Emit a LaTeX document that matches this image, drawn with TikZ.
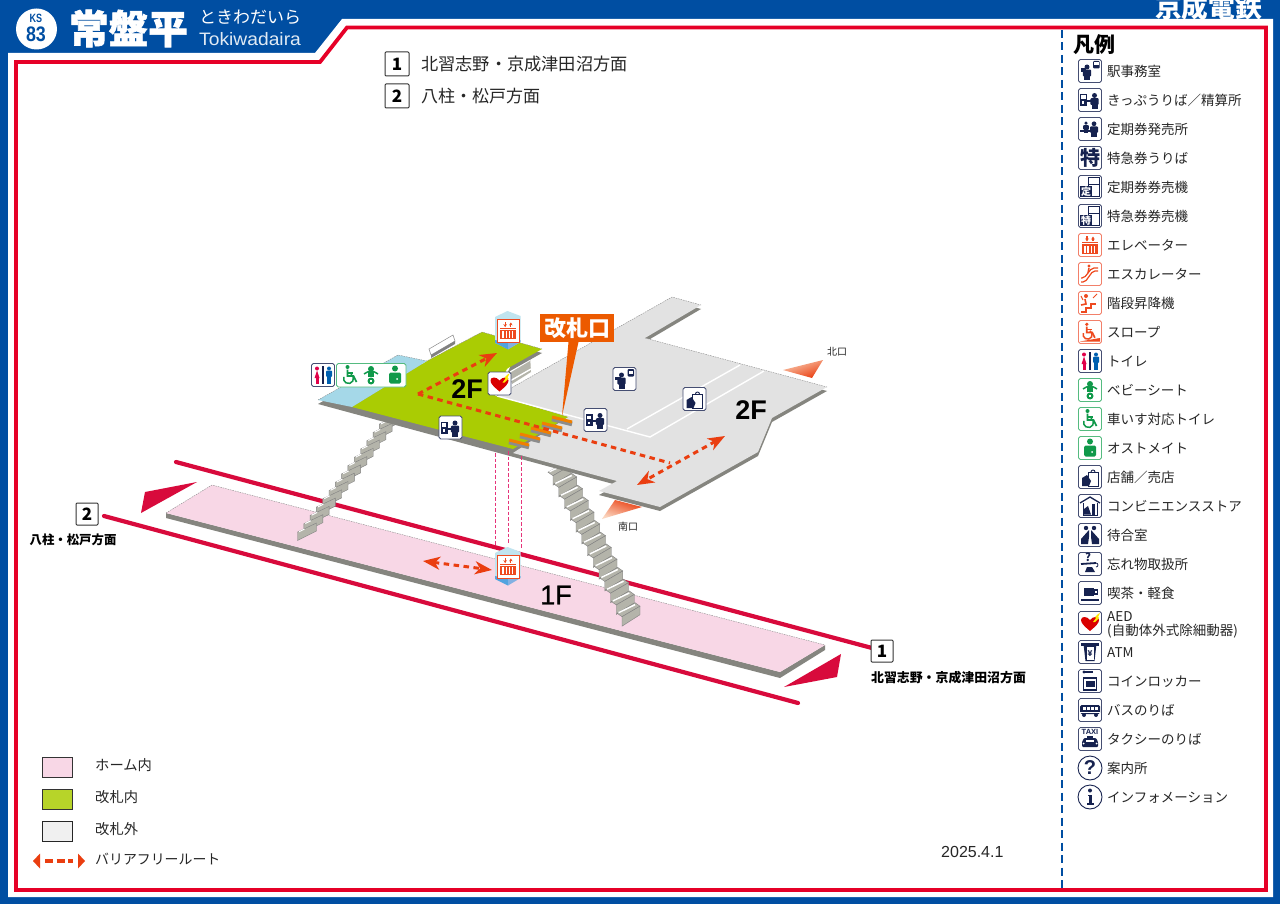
\documentclass[tikz,border=0pt]{standalone}
\usepackage{fontspec}
\usepackage{graphicx}
\usetikzlibrary{arrows.meta}
\setmainfont{Noto Sans CJK JP}
\newfontfamily\latinf{Liberation Sans}
\newfontfamily\latinh[FakeBold=0.8]{Liberation Sans}
\newfontfamily\heavy[BoldFeatures={FakeBold=1.6}]{Noto Sans CJK JP}
\definecolor{kblue}{HTML}{004EA2}
\definecolor{kred}{HTML}{E60027}
\definecolor{rail}{HTML}{D80A3C}
\definecolor{navy}{HTML}{16224F}
\definecolor{pinkf}{HTML}{F8D7E6}
\definecolor{greenf}{HTML}{AACC03}
\definecolor{greyf}{HTML}{E2E2E2}
\definecolor{edgeg}{HTML}{85857F}
\definecolor{stairg}{HTML}{B4B4AA}
\definecolor{sky}{HTML}{A5D8E8}
\definecolor{route}{HTML}{EA3E10}
\definecolor{orng}{HTML}{EC5A00}
\definecolor{gateo}{HTML}{F08000}
\definecolor{shaft}{HTML}{E6337A}
\definecolor{icor}{HTML}{EE4A20}
\definecolor{icorb}{HTML}{F2806A}
\definecolor{icg}{HTML}{10994A}
\definecolor{icgb}{HTML}{55BB80}
\definecolor{wcred}{HTML}{E0004A}
\definecolor{wcblue}{HTML}{0060B0}
\tikzset{
 x=1pt,y=-1pt,
 txt/.style={inner sep=0pt,anchor=west,text=black!85,text height=13.6pt,text depth=2pt,font=\fontsize{13.5}{15}\selectfont},
 txtb/.style={txt,text height=16pt,font=\fontsize{17.2}{18}\selectfont},
 txts/.style={txt,font=\fontsize{14.3}{15}\selectfont},
 numbox/.style={draw=black!80,fill=white,rounded corners=1pt,line width=1pt,minimum size=#1,inner sep=0pt,font=\fontsize{17}{17}\selectfont\bfseries},
 routeline/.style={draw=route,line width=3pt,dash pattern=on 5.5pt off 4.5pt},
 stip/.style={-{Stealth[length=17pt,width=13pt,inset=5pt]}},
 dtip/.style={{Stealth[length=17pt,width=13pt,inset=5pt]}-{Stealth[length=17pt,width=13pt,inset=5pt]}},
 backedge/.style={draw=black!45,line width=.4pt,dash pattern=on 1.5pt off 1pt},
 nb/.style={draw=navy!80,fill=white,line width=.8pt,rounded corners=1.8pt},
 ob/.style={draw=icorb,fill=white,line width=.8pt,rounded corners=1.8pt},
 gb/.style={draw=icgb,fill=white,line width=.8pt,rounded corners=1.8pt},
 pics/boxn/.style={code={\path[nb](-11.5,-11.5)rectangle(11.5,11.5);}},
 pics/boxo/.style={code={\path[ob](-11.5,-11.5)rectangle(11.5,11.5);}},
 pics/boxg/.style={code={\path[gb](-11.5,-11.5)rectangle(11.5,11.5);}},
 pics/man/.style={code={\fill[#1](0,-5.5)circle(2.5);\fill[#1,rounded corners=1pt](-4.2,-2.8)rectangle(4.2,4);\fill[#1](-3,3)rectangle(3,8);}},
 pics/icoffice/.style={code={\pic{boxn};\pic[shift={(-3,1.5)}]{man=navy};\fill[navy](-9.5,-2.5)rectangle(-4,1);\fill[navy,rounded corners=1pt](3,-10)rectangle(9.5,-2.5);\fill[white](4,-8.5)rectangle(8.5,-5.5);}},
 pics/icticket/.style={code={\pic{boxn};\pic[shift={(4.5,1)}]{man=navy};\fill[navy](-10,-6)rectangle(-3,6);\fill[white](-8.7,-4.5)rectangle(-4.3,-1);\fill[white](-8,1.5)rectangle(-6,4);\fill[navy](-3,0)rectangle(1,2);}},
 pics/iccommuter/.style={code={\pic{boxn};\pic[shift={(4,0)},scale=.95]{man=navy};\pic[shift={(-4,-2)},scale=.7]{man=navy};\fill[navy](-10,1)rectangle(2,3);}},
 pics/ictoku/.style={code={\pic{boxn};\node[text=navy,font=\fontsize{20}{20}\selectfont\bfseries,inner sep=0pt](t){特};}},
 pics/icmach/.style={code={\pic{boxn};\draw[navy,line width=.7](-2,-9.5)rectangle(9,9);\draw[navy,line width=.7](-2,-3)--(9,-3);\fill[navy](-10,-1)rectangle(2,10);\node[text=white,font=\fontsize{10}{10}\selectfont\bfseries,inner sep=0pt](t) at (-4,4.5){#1};}},
 pics/glelev/.style={code={\fill[icor](-8,-1)rectangle(8,9);\foreach\q in{-5,-1.8,1.4,4.6}{\fill[white](\q-.8,1)rectangle(\q+.8,8);}\draw[icor,line width=1.1,-{Stealth[length=3pt,width=3.5pt]}](-3,-8.5)--(-3,-3.5);\draw[icor,line width=1.1,-{Stealth[length=3pt,width=3.5pt]}](3,-3.5)--(3,-8.5);\draw[icor,line width=.8](-8,-2.5)--(8,-2.5);}},
 pics/icelev/.style={code={\pic{boxo};\pic{glelev};}},
 pics/icesc/.style={code={\pic{boxo};\draw[icor,line width=1.2,rounded corners=2pt](-9,8)--(-5,8)--(3,-3)--(8,-3);\draw[icor,line width=1.2,rounded corners=2pt](-9,4)--(-6,4)--(2,-6)--(8,-6);\fill[icor](-1,-8)circle(1.6);\draw[icor,line width=1.5](-1,-6)--(-2,-1);}},
 pics/icstair/.style={code={\pic{boxo};\draw[icor,line width=1.4](-9,9)--(-4,9)--(-4,5)--(1,5)--(1,1)--(6,1);\fill[icor](-4,-7)circle(2);\draw[icor,line width=1.6](-5,-4)--(-4,1)--(-9,2);\draw[icor,line width=1](3,-5)--(7,-9);\draw[icor,line width=1](-9,-7)--(-7,-3);}},
 pics/glwheel/.style={code={\fill[#1](-2.5,-8)circle(2);\draw[#1,line width=1.7](-2.5,-5.5)--(-2.5,1)--(3.5,1)--(6.5,7);\draw[#1,line width=1.5](-2.5,-2)--(3,-2);\draw[#1,line width=1.5](1,-0.8)arc[start angle=-60,end angle=200,radius=5];}},
 pics/icslope/.style={code={\pic{boxo};\pic[shift={(-1,-.5)},scale=.9]{glwheel=icor};\fill[icor](-10,9.5)--(10,6)--(10,9.5)--cycle;}},
 pics/ictoilet/.style={code={\pic{boxn};\fill[wcred](-6,-6.5)circle(2);\fill[wcred](-6,-4.5)--(-3.5,3)--(-8.5,3)--cycle;\fill[wcred](-7.5,3)rectangle(-4.5,9);\fill[navy](-.7,-9)rectangle(.7,9);\fill[wcblue](6,-6.5)circle(2);\fill[wcblue,rounded corners=1pt](3,-4.5)rectangle(9,2);\fill[wcblue](4.2,1)rectangle(7.8,9);}},
 pics/glbaby/.style={code={\fill[icg](0,-6)circle(3);\fill[icg](-3,-3)rectangle(3,2);\draw[icg,line width=1.5](-7,-1)to[bend left=40](7,-1);\fill[icg](0,6)circle(3.5);\fill[white](-1.2,4.8)rectangle(1.2,7.2);}},
 pics/glosto/.style={code={\fill[icg](0,-6.5)circle(3);\fill[icg,rounded corners=1.5pt](-6,-2.5)rectangle(6,8.5);\fill[white](2,4)circle(1);}},
 pics/icbaby/.style={code={\pic{boxg};\pic{glbaby};}},
 pics/icwheel/.style={code={\pic{boxg};\pic{glwheel=icg};}},
 pics/icosto/.style={code={\pic{boxg};\pic{glosto};}},
 pics/glbag/.style={code={\draw[navy,line width=.9](-2,-5)rectangle(8,9);\draw[navy,line width=.9](1,-5)arc[start angle=180,end angle=360,radius=2];\fill[navy](-8,1)--(-3,-2)--(1,4)--(-1,9)--(-8,9)--cycle;}},
 pics/icshop/.style={code={\pic{boxn};\pic{glbag};}},
 pics/icconv/.style={code={\pic{boxn};\draw[navy,line width=1.3](-10,-3)--(0,-9)--(10,-3);\draw[navy,line width=1](-7,-3)--(-7,9)--(7,9)--(7,-3);\fill[navy](-6,3)--(-2,0)--(1,8.5)--(-6,8.5)--cycle;\fill[navy](2,-2)rectangle(5,8.5);}},
 pics/icwait/.style={code={\pic{boxn};\fill[navy](-4,-7)circle(2.2);\fill[navy](4,-7)circle(2.2);\fill[navy](-1,-5)--(-1,2)--(-2,9)--(-9,9)--(-9,4)--cycle;\fill[navy](1,-5)--(1,2)--(2,9)--(9,9)--(9,4)--cycle;}},
 pics/iclost/.style={code={\pic{boxn};\node[text=navy,font=\fontsize{11}{11}\selectfont\bfseries,inner sep=0pt](t) at (-2,-6.5){?};\draw[navy,line width=1.8](-9,0)--(6,-1);\draw[navy,line width=.8](6,-1)arc[start angle=-90,end angle=90,radius=2];\fill[navy](-5,8)--(-3,3)--(2,3)--(5,8)--cycle;}},
 pics/iccafe/.style={code={\pic{boxn};\fill[navy](-6,-5)rectangle(4,3);\draw[navy,line width=1.2](4,-3)rectangle(7.5,1);\fill[navy](-9,5.5)rectangle(9,7.5);}},
 pics/glheart/.style={code={\fill[red!85!black](0,8).. controls (-6,3) and (-9,0) .. (-9,-3).. controls (-9,-7) and (-3,-7) .. (0,-3).. controls (3,-7) and (9,-7) .. (9,-3).. controls (9,0) and (6,3) .. (0,8)--cycle;\fill[yellow!90!orange](3,-1)--(6,-5)--(5,-6)--(8,-9)--(10,-10)--(8,-6)--(9,-5)--(5,-1)--cycle;}},
 pics/icaed/.style={code={\pic{boxn};\pic{glheart};}},
 pics/icatm/.style={code={\pic{boxn};\fill[navy](-9,-9)rectangle(9,-6);\fill[navy](-6.5,-8)--(6.5,-8)--(4.5,9)--(-4.5,9)--cycle;\fill[white](-3.5,-5)rectangle(3.5,7.5);\node[text=navy,font=\fontsize{8}{8}\selectfont\bfseries,inner sep=0pt](t) at (0,1.5){¥};}},
 pics/iclocker/.style={code={\pic{boxn};\draw[navy,line width=1.2](-6.5,-3)rectangle(6.5,9);\fill[navy](-4.5,0)rectangle(4.5,6);\fill[navy](-6,-9)circle(1.6);\draw[navy,line width=1.2](-6,-9)--(3,-9);}},
 pics/icbus/.style={code={\pic{boxn};\fill[navy,rounded corners=1.5pt](-10,-5)rectangle(10,4);\foreach\q in{-7.5,-3.5,.5,4.5}{\fill[white](\q,-3.5)rectangle(\q+3,-.5);}\fill[navy](-6,5)circle(2);\fill[navy](6,5)circle(2);\fill[white](-10,2)rectangle(10,2.6);}},
 pics/ictaxi/.style={code={\pic{boxn};\node[text=navy,font=\fontsize{7.5}{8}\selectfont\latinf\bfseries,inner sep=0pt](t) at (0,-7.5){TAXI};\fill[navy](-3,-3)rectangle(3,-1);\fill[navy,rounded corners=1pt](-6,-1)--(6,-1)--(8,3)--(8,8)--(-8,8)--(-8,3)--cycle;\fill[white](-4,.5)rectangle(4,3);\fill[white](-6.5,4.5)circle(1);\fill[white](6.5,4.5)circle(1);}},
 pics/icq/.style={code={\draw[navy,fill=white,line width=.9](0,0)circle(12);\node[text=navy,font=\fontsize{20}{20}\selectfont\latinf\bfseries,inner sep=0pt](t){?};}},
 pics/ici/.style={code={\draw[navy,fill=white,line width=.9](0,0)circle(12);\fill[navy](0,-6.5)circle(2);\fill[navy](-2.5,-2.5)rectangle(1.5,-1);\fill[navy](-1.5,-2)rectangle(1.5,6.5);\fill[navy](-3.5,6)rectangle(3.5,8);}},
}
\newcommand\lgrow[4]{\pic at (1090,#1) {#2}; \node[txt] (#4) at (1107,#1) {#3};}
\newcommand\gatebar[2]{\draw[black!45,line width=4.5pt] (#1-10,#2-1) -- (#1+10,#2+4);\draw[gateo,line width=3pt] (#1-10,#2-3) -- (#1+10,#2+2);}
\begin{document}
\begin{tikzpicture}
\useasboundingbox (0,0) rectangle (1280,904);
% frame
\fill[kblue] (0,0) rectangle (1280,904);
\fill[white] (8,53) -- (315,53) -- (342,19) -- (1273,19) -- (1273,897) -- (8,897) -- cycle;
\draw[kred,line width=3.8pt,miter limit=3] (16,62) -- (320,62) -- (347,27.5) -- (1266,27.5) -- (1266,890) -- (16,890) -- cycle;
\draw[kblue,line width=2pt,dash pattern=on 8pt off 4.5pt] (1062,30) -- (1062,888);
% header
\node[circle,fill=white,minimum size=41pt,inner sep=0pt] (badge) at (36.5,29) {};
\node[text=kblue,inner sep=0pt,font=\fontsize{12}{12}\selectfont\latinf\bfseries] (ks) at (36,18) {\scalebox{.75}[1]{KS}};
\node[text=kblue,inner sep=0pt,font=\fontsize{21}{21}\selectfont\latinf\bfseries] (num) at (36,34) {\scalebox{.85}[1]{83}};
\node[text=white,inner sep=0pt,font=\fontsize{39.5}{39}\selectfont\heavy\bfseries] (name) at (128.5,28.5) {常盤平};
\node[text=white,inner sep=0pt,anchor=west,text height=13pt,text depth=1pt,font=\fontsize{17}{17}\selectfont] (kana) at (199,18) {ときわだいら};
\node[text=white!88!kblue,inner sep=0pt,anchor=west,text height=14pt,text depth=0pt,font=\fontsize{18}{18}\selectfont\latinf] (roma) at (199,39) {\scalebox{1.07}[1]{Tokiwadaira}};
\node[text=white,inner sep=0pt,font=\fontsize{26.7}{26}\selectfont\bfseries] (kk) at (1208.5,7) {京成電鉄};
% top direction labels
\node[numbox=24pt] (d1) at (397,64) {1};
\node[numbox=24pt] (d2) at (397,96) {2};
\node[txtb] (d1t) at (421,64) {北習志野・京成津田沼方面};
\node[txtb,font=\fontsize{17}{18}\selectfont] (d2t) at (421,96) {八柱・松戸方面};
% rails
\coordinate (ru1) at (176,462); \coordinate (ru2) at (872,648);
\coordinate (rl1) at (104,516); \coordinate (rl2) at (798,703);
\draw[rail,line width=4.2pt,line cap=round] (ru1) -- (ru2);
\draw[rail,line width=4.2pt,line cap=round] (rl1) -- (rl2);
\fill[rail] (141,513) -- (197,482) -- (145,492) -- cycle;
\fill[rail] (784,687) -- (841,654) -- (837,677) -- cycle;
% 1F platform
\fill[edgeg] (166,513) -- (780,672) -- (825,645) -- (825,650) -- (780,678) -- (166,518) -- cycle;
\fill[pinkf] (166,513) -- (212,485) -- (825,645) -- (780,672) -- cycle;
\draw[backedge] (166,513) -- (212,485) -- (825,645);
% stairs
\foreach \i in {13,12,...,0}{
  \pgfmathsetmacro\xx{297.5+6.3*\i}
  \pgfmathsetmacro\yy{532-8.3*\i}
  \draw[black!50,fill=stairg,line width=.4pt] (\xx,\yy) -- (\xx+19,\yy-9) -- (\xx+19,\yy-1) -- (\xx,\yy+8.5) -- cycle;
  \draw[white,line width=1pt] (\xx+1.5,\yy-.2) -- (\xx+7,\yy-3);
}
\foreach \i in {0,...,12}{
  \pgfmathsetmacro\xx{553+5.75*\i}
  \pgfmathsetmacro\yy{475.7+11.75*\i}
  \draw[black!50,fill=stairg,line width=.4pt] (\xx-5,\yy-3.5) -- (\xx+13,\yy-14) -- (\xx+18,\yy-10.5) -- (\xx,\yy) -- cycle;
  \draw[white,line width=1.5pt] (\xx-3.5,\yy-4) -- (\xx+13,\yy-12);
  \draw[black!50,fill=stairg,line width=.4pt] (\xx,\yy) -- (\xx+18,\yy-10.5) -- (\xx+18,\yy-2) -- (\xx,\yy+9.5) -- cycle;
}
% small stairs behind 2F
\draw[black!45,fill=white,line width=.5pt] (429,349) -- (453,335) -- (455,341) -- (431,355) -- cycle;
\fill[black!50] (431,355) -- (455,341) -- (455,344) -- (431,358) -- cycle;
\fill[stairg] (507,368) -- (530,355) -- (531,372) -- (512,384) -- cycle;
\draw[white,line width=1.4pt] (508,373) -- (530,360);
\draw[white,line width=1.4pt] (510,381) -- (531,369);
% 2F slab
\fill[edgeg] (318,404) -- (398,359) -- (427,365) -- (482,336) -- (542,353) -- (510,371) -- (497,400) -- (672,301) -- (701,309) -- (645,342) -- (827,391) -- (772,422) -- (758,456) -- (660,511) -- (599,495) -- (617,485) -- cycle;
\fill[greyf] (497,396) -- (672,297) -- (701,305) -- (645,338) -- (827,387) -- (772,418) -- (758,452) -- (660,507) -- (599,491) -- (617,481) -- (513,453) -- (568,417) -- cycle;
\fill[greenf] (352,407) -- (427,361) -- (482,332) -- (542,349) -- (510,367) -- (497,396) -- (568,417) -- (513,449) -- cycle;
\fill[sky] (318,400) -- (398,355) -- (427,361) -- (352,407) -- cycle;
\fill[white] (507,369) -- (510,367) -- (497,396) -- (495,395.5) -- cycle;
\draw[white,line width=1.4pt] (497,396) -- (650,437) -- (764,371);
\draw[white,line width=1.4pt] (627,429) -- (740,365);
\draw[backedge] (318,400) -- (398,355) -- (427,361) -- (482,332) -- (542,349);
\draw[backedge] (497,396) -- (672,297) -- (701,305);
\draw[backedge] (645,338) -- (827,387);
% gates
\gatebar{562}{420}\gatebar{552}{426}\gatebar{541}{431}\gatebar{530}{437}\gatebar{519}{443}
% pink dashed lift shaft
\foreach \q/\t/\b in {495/453/545,508.5/451/543,521.5/456/548}{
  \draw[shaft,line width=.7pt,dash pattern=on 3.5pt off 2pt] (\q,\t) -- (\q,\b);
}
% routes
\coordinate (rv) at (418,394); \coordinate (evt) at (497,353); \coordinate (rg) at (670,463);
\coordinate (ra) at (725,436); \coordinate (rb) at (637,485);
\coordinate (fa) at (423,561); \coordinate (fb) at (492,570);
\draw[routeline,stip] (rv) -- (evt);
\draw[routeline] (rv) -- (rg);
\draw[routeline,dtip] (ra) -- (rb);
\draw[routeline,dtip] (fa) -- (fb);
% lifts
\foreach \n/\dy in {upper/0,lower/236}{
  \begin{scope}[shift={(0,\dy)}]
    \fill[sky!70!white] (495,317) -- (507.5,311) -- (520.5,316) -- (520.5,342) -- (508,349) -- (495,343) -- cycle;
    \fill[cyan!70!blue!70!white] (495,340) -- (495,343) -- (508,349.5) -- (508,343) -- cycle;
    \fill[cyan!60!blue!50!white] (508,343) -- (508,349.5) -- (520.5,342) -- (520.5,340) -- cycle;
    \draw[icor,fill=white,line width=.8pt] (497,319) rectangle (519.5,342);
    \pic[shift={(508,330.5)},scale=.95]{glelev};
  \end{scope}
}
% callout
\fill[orng] (568.5,342) -- (578.5,342) -- (562,416) -- cycle;
\node[fill=orng,text=white,minimum width=74pt,minimum height=28pt,inner sep=0pt,font=\fontsize{22}{22}\selectfont\bfseries] (gate) at (577,328) {改札口};
% exit wedges
\shade[left color=orng!30!white,right color=route,shading angle=20] (823,360) -- (783,370) -- (812,378) -- cycle;
\shade[left color=route,right color=orng!25!white,shading angle=-20] (602,519) -- (615,500) -- (642,507) -- cycle;
\node[inner sep=0pt,text=black!85,font=\fontsize{10}{10}\selectfont] (kita) at (837,352) {北口};
\node[inner sep=0pt,text=black!85,font=\fontsize{10}{10}\selectfont] (minami) at (628,527) {南口};
% floor labels
\node[inner sep=0pt,font=\fontsize{27}{27}\selectfont\latinf\bfseries] (f2a) at (467,389) {2F};
\node[inner sep=0pt,font=\fontsize{27}{27}\selectfont\latinf\bfseries] (f2b) at (751,410) {2F};
\node[inner sep=0pt,font=\fontsize{27}{27}\selectfont\latinh] (f1) at (556,595) {1F};
% map icons
\pic at (323,375) {ictoilet};
\path[gb] (336.5,363.5) rectangle (406,387);
\pic[shift={(350,375)}]{glwheel=icg};
\pic[shift={(371,375)}]{glbaby};
\pic[shift={(395,375)}]{glosto};
\pic at (499.5,383.5) {icaed};
\pic at (450.5,427.5) {icticket};
\pic at (595.5,420) {icticket};
\pic at (624.5,379) {icoffice};
\pic at (694.5,399) {icshop};
% direction labels on map
\node[numbox=22pt] (m2) at (87,514) {2};
\node[numbox=22pt] (m1) at (882,651) {1};
\node[inner sep=0pt,text=black,font=\fontsize{12.4}{13}\selectfont\bfseries] (m2t) at (73,540) {八柱・松戸方面};
\node[inner sep=0pt,text=black,font=\fontsize{12.9}{13}\selectfont\bfseries] (m1t) at (948.5,678) {北習志野・京成津田沼方面};
% legend right
\node[txt,text=black,text height=19pt,font=\fontsize{21}{21}\selectfont\bfseries] (lgh) at (1073,44) {凡例};
\lgrow{71}{icoffice}{駅事務室}{l1}
\lgrow{100}{icticket}{きっぷうりば／精算所}{l2}
\lgrow{129}{iccommuter}{定期券発売所}{l3}
\lgrow{158}{ictoku}{特急券うりば}{l4}
\lgrow{187}{icmach=定}{定期券券売機}{l5}
\lgrow{216}{icmach=特}{特急券券売機}{l6}
\lgrow{245}{icelev}{エレベーター}{l7}
\lgrow{274}{icesc}{エスカレーター}{l8}
\lgrow{303}{icstair}{階段昇降機}{l9}
\lgrow{332}{icslope}{スロープ}{l10}
\lgrow{361}{ictoilet}{トイレ}{l11}
\lgrow{390}{icbaby}{ベビーシート}{l12}
\lgrow{419}{icwheel}{車いす対応トイレ}{l13}
\lgrow{448}{icosto}{オストメイト}{l14}
\lgrow{477}{icshop}{店舗／売店}{l15}
\lgrow{506}{icconv}{コンビニエンスストア}{l16}
\lgrow{535}{icwait}{待合室}{l17}
\lgrow{564}{iclost}{忘れ物取扱所}{l18}
\lgrow{593}{iccafe}{喫茶・軽食}{l19}
\pic at (1090,623) {icaed};
\node[txt] (l20a) at (1107,616) {AED};
\node[txt] (l20b) at (1107,630) {(自動体外式除細動器)};
\lgrow{652}{icatm}{ATM}{l21}
\lgrow{681}{iclocker}{コインロッカー}{l22}
\lgrow{710}{icbus}{バスのりば}{l23}
\lgrow{739}{ictaxi}{タクシーのりば}{l24}
\lgrow{768}{icq}{案内所}{l25}
\lgrow{797}{ici}{インフォメーション}{l26}
% legend left
\draw[black!80,fill=pinkf,line width=.8pt] (42,757) rectangle (72,777);
\draw[black!80,fill=greenf!85!white,line width=.8pt] (42,789) rectangle (72,809);
\draw[black!85,fill=black!6,line width=.8pt] (42,821) rectangle (72,841);
\node[txts] (a1) at (95,765) {ホーム内};
\node[txts] (a2) at (95,797) {改札内};
\node[txts] (a3) at (95,829) {改札外};
\node[txts,font=\fontsize{13.9}{15}\selectfont] (a4) at (95,859) {バリアフリールート};
\coordinate (ka) at (33,861); \coordinate (kb) at (85,861);
\draw[route,line width=4pt,dash pattern=on 8pt off 3.5pt] (45,861) -- (73,861);
\fill[route] (ka) -- (40,853.5) -- (40,868.5) -- cycle;
\fill[route] (kb) -- (78,853.5) -- (78,868.5) -- cycle;
\node[txt,font=\fontsize{16}{16}\selectfont\latinf] (date) at (941,852) {2025.4.1};
\end{tikzpicture}
\end{document}
